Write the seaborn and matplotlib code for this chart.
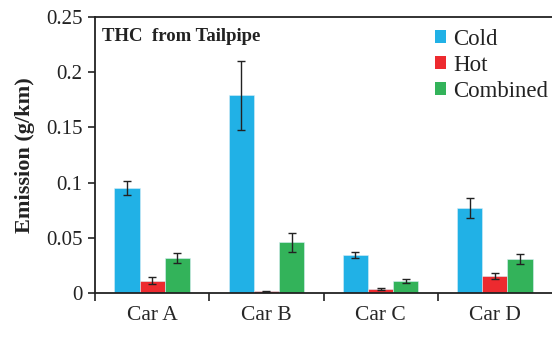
import matplotlib
matplotlib.use("Agg")
import matplotlib.pyplot as plt
import seaborn as sns
import pandas as pd
from matplotlib.patches import Patch

cars = ["Car A", "Car B", "Car C", "Car D"]
modes = ["Cold", "Hot", "Combined"]
cold = [0.095, 0.179, 0.034, 0.077]
hot = [0.011, 0.0015, 0.0036, 0.0155]
combined = [0.032, 0.046, 0.0112, 0.031]
cold_err = [0.0065, 0.031, 0.0027, 0.0095]
hot_err = [0.0033, 0.0006, 0.0006, 0.0025]
combined_err = [0.0045, 0.0088, 0.0018, 0.0045]
yticks = [0, 0.05, 0.1, 0.15, 0.2, 0.25]
ytick_labels = ["0", "0.05", "0.1", "0.15", "0.2", "0.25"]
colors = ["#21B1E6", "#ED2A2F", "#33B35A"]

rows = []
for m, vals in zip(modes, [cold, hot, combined]):
    for c, v in zip(cars, vals):
        rows.append({"car": c, "mode": m, "value": v})
df = pd.DataFrame(rows)
errs = {"Cold": cold_err, "Hot": hot_err, "Combined": combined_err}

sns.set_style("ticks")
plt.rcParams["font.family"] = ["Liberation Serif", "DejaVu Serif"]

fig = plt.figure(figsize=(5.52, 3.40), dpi=100)
ax = fig.add_axes([95/552, (340-293)/340, (552-95)/552, (293-17)/340])

sns.barplot(data=df, x="car", y="value", hue="mode", order=cars, hue_order=modes,
            palette=colors, saturation=1, width=0.66, gap=0, errorbar=None, legend=False,
            edgecolor="#d8eef7", linewidth=0.4, ax=ax)

for cont, m in zip(ax.containers, modes):
    for bar, e in zip(cont, errs[m]):
        x = bar.get_x() + bar.get_width() / 2
        ax.errorbar(x, bar.get_height(), yerr=e, fmt="none", ecolor="#222222",
                    elinewidth=1.0, capsize=3, capthick=1.0)

ax.set_ylim(0, 0.25)
ax.set_xlim(-0.5, 3.5)
ax.set_yticks(yticks)
ax.set_yticklabels(ytick_labels, fontsize=15)
ax.set_xticks([-0.5, 0.5, 1.5, 2.5])
ax.set_xticklabels([])
ax.set_xticks(range(len(cars)), minor=True)
ax.set_xticklabels(cars, minor=True, fontsize=15.5)
ax.tick_params(axis="x", which="minor", length=0, pad=9)
ax.tick_params(axis="x", which="major", length=6, width=1.2, direction="out", colors="#222222")
ax.tick_params(axis="y", length=5, width=1.2, direction="out", colors="#222222", pad=4)
ax.tick_params(labelcolor="#222222")
ax.set_xlabel("")
ax.set_ylabel("Emission (g/km)", fontsize=16, fontweight="bold", color="#222222", labelpad=8)
for s in ["left", "bottom", "top"]:
    ax.spines[s].set_linewidth(1.3)
    ax.spines[s].set_color("#222222")
ax.spines["right"].set_visible(False)

ax.text(0.015, 0.928, "THC  from Tailpipe", transform=ax.transAxes, fontsize=13.5,
        fontweight="bold", va="center", ha="left", color="#222222")

handles = [Patch(facecolor=c, edgecolor="none") for c in colors]
leg = fig.legend(handles, modes, loc="upper left", bbox_to_anchor=(435/552, 1 - 29/340),
                 frameon=False, fontsize=16.5, handlelength=0.5, handleheight=0.5,
                 handletextpad=0.3, labelspacing=0.22, borderpad=0, borderaxespad=0)
for t in leg.get_texts():
    t.set_color("#222222")

fig.savefig("out.png", dpi=100)
